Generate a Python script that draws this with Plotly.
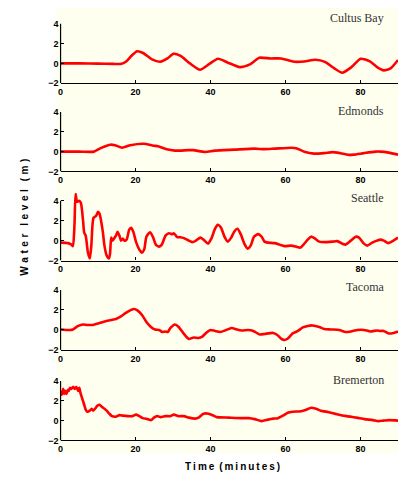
import plotly.graph_objects as go

stations = ["Cultus Bay", "Edmonds", "Seattle", "Tacoma", "Bremerton"]

cultus_t = [0, 5, 10, 14, 16, 17.5, 19, 20.4, 22, 24.4, 26.6, 28.5, 30.1, 32, 34.5, 37.2, 39.5, 42, 44.5, 47.8, 50.5, 53, 56, 58.8, 62.3, 65, 68, 70.5, 73, 75.1, 77.5, 80, 82.5, 84.5, 86.2, 88, 90]
cultus_y = [0, 0, -0.02, -0.05, -0.05, 0.2, 0.8, 1.22, 1.05, 0.4, 0.17, 0.5, 0.97, 0.75, 0.0, -0.63, -0.1, 0.47, 0.1, -0.37, -0.1, 0.57, 0.5, 0.5, 0.17, 0.2, 0.37, 0.15, -0.5, -0.93, -0.4, 0.47, 0.2, -0.4, -0.7, -0.5, 0.35]

edmonds_t = [0, 5, 8.9, 10.7, 13.3, 14.5, 16.4, 18.6, 22.2, 24.8, 26, 28.3, 30.5, 34, 35.4, 38.5, 41.1, 46.4, 51.7, 54.4, 57, 61.5, 62.8, 65, 67.6, 70.3, 72.5, 73.8, 76.9, 78.2, 80.9, 84, 85.3, 87.5, 90]
edmonds_y = [0, 0, 0, 0.35, 0.7, 0.65, 0.4, 0.65, 0.8, 0.6, 0.55, 0.23, 0.1, 0.15, 0.15, -0.03, 0.1, 0.2, 0.3, 0.25, 0.3, 0.4, 0.35, 0.0, -0.2, -0.15, -0.05, -0.1, -0.33, -0.3, -0.15, 0.0, 0.0, -0.1, -0.3]

seattle_t = [0, 2, 2.9, 3.3, 3.7, 4.0, 4.4, 4.9, 5.4, 6.0, 6.3, 6.7, 7.3, 7.8, 8.2, 8.5, 8.8, 9.5, 10.0, 10.4, 10.8, 11.3, 11.7, 12.3, 12.9, 13.2, 13.5, 13.9, 14.4, 14.8, 15.2, 15.7, 16.1, 16.6, 17.0, 17.6, 18.3, 18.8, 19.4, 20.1, 21.0, 21.7, 22.3, 22.9, 23.9, 24.7, 25.4, 26.3, 27.0, 28.0, 28.9, 29.8, 30.2, 31.1, 32.0, 32.9, 34.2, 35.1, 35.9, 37.3, 38.1, 39.3, 40.2, 41.2, 41.9, 42.8, 43.7, 44.6, 45.5, 46.3, 47.2, 48.1, 49.0, 49.9, 50.7, 51.6, 52.7, 53.6, 54.4, 55.3, 57.1, 58.4, 59.7, 61.5, 62.8, 63.9, 65.0, 65.9, 66.8, 67.7, 69.0, 70.7, 72.5, 73.8, 75.1, 76.0, 77.4, 78.7, 79.6, 80.9, 81.8, 83.1, 84.4, 85.3, 86.2, 87.4, 88.3, 90]
seattle_y = [-0.2, -0.25, -0.4, -0.55, 1.5, 4.7, 3.9, 4.0, 3.8, 2.0, 0.8, 0.5, -1.2, -1.8, -0.5, 1.5, 2.3, 2.5, 2.9, 2.7, 2.0, 0.8, -0.5, -1.5, -1.8, -1.3, 0.3, 0.0, 0.3, 0.5, 0.9, 0.5, 0.0, 0.2, 0.0, 0.1, 1.1, 1.3, 0.9, -0.1, -0.9, -1.2, -0.9, 0.4, 0.85, 0.3, -0.4, -0.6, -0.4, 0.5, 0.75, 0.65, 0.75, 0.35, 0.35, 0.25, 0.0, -0.15, -0.05, 0.3, 0.1, -0.3, 0.2, 1.2, 1.6, 1.3, 0.4, -0.1, 0.3, 0.9, 1.2, 0.6, -0.3, -0.8, -0.5, 0.4, 0.65, 0.4, -0.1, -0.2, -0.25, -0.4, -0.55, -0.5, -0.6, -0.7, -0.3, 0.1, 0.4, 0.25, -0.1, -0.15, -0.1, -0.05, -0.3, -0.4, 0.0, 0.4, 0.3, -0.3, -0.5, -0.2, 0.0, 0.1, 0.0, -0.25, -0.1, 0.3]

tacoma_t = [0, 2.5, 3.3, 4.7, 6.0, 7.1, 8.6, 10.4, 12.2, 13.5, 14.8, 16.1, 17.4, 18.8, 19.6, 20.5, 21.9, 22.9, 24.1, 25.2, 26.3, 27.1, 28.0, 28.6, 29.3, 30.5, 31.5, 32.9, 34.2, 35.5, 36.8, 37.7, 38.8, 39.9, 41.2, 42.6, 43.9, 45.6, 47.0, 48.3, 50.0, 51.4, 53.1, 54.4, 56.7, 57.8, 58.9, 59.7, 60.6, 61.9, 63.3, 64.6, 65.9, 67.2, 69.0, 70.3, 72.0, 74.3, 76.0, 77.4, 79.2, 80.9, 82.6, 84.4, 85.3, 86.2, 87.5, 88.8, 90]
tacoma_y = [0.05, 0.0, 0.05, 0.4, 0.55, 0.5, 0.5, 0.7, 0.9, 1.0, 1.1, 1.35, 1.7, 2.0, 2.1, 1.95, 1.4, 0.8, 0.3, 0.05, 0.0, -0.2, -0.15, -0.2, 0.2, 0.55, 0.3, -0.4, -0.9, -0.75, -0.8, -0.7, -0.3, 0.0, -0.1, -0.2, -0.05, 0.2, 0.05, -0.05, 0.0, -0.1, -0.45, -0.4, -0.3, -0.5, -0.9, -1.0, -0.85, -0.35, -0.1, 0.25, 0.4, 0.45, 0.3, 0.1, 0.05, 0.0, -0.2, -0.15, 0.0, 0.0, -0.15, -0.05, -0.1, -0.1, -0.35, -0.3, -0.15]

bremerton_t = [0, 0.3, 0.5, 0.7, 0.95, 1.2, 1.6, 1.9, 2.2, 2.5, 2.9, 3.3, 3.8, 4.2, 4.7, 5.0, 5.3, 5.8, 6.3, 6.7, 7.1, 7.8, 8.3, 8.7, 9.4, 9.8, 10.4, 11.0, 11.7, 12.3, 13.0, 13.7, 14.8, 15.7, 16.6, 17.9, 19.2, 20.1, 21.0, 21.9, 23.2, 24.2, 24.9, 25.8, 26.7, 28.0, 29.3, 30.2, 31.5, 32.9, 34.2, 35.9, 36.8, 38.1, 39.5, 40.8, 41.7, 44.8, 48.3, 50.1, 51.8, 53.6, 55.3, 56.7, 58.0, 59.3, 60.6, 61.9, 64.1, 65.5, 66.8, 68.1, 69.4, 71.5, 73.7, 76.3, 78.9, 81.1, 83.3, 84.7, 86.1, 87.8, 90]
bremerton_y = [3.0, 2.6, 2.9, 3.2, 2.7, 3.0, 2.7, 3.1, 3.0, 3.3, 3.2, 3.4, 3.2, 3.4, 3.0, 3.3, 2.8, 2.2, 1.6, 1.1, 0.9, 1.0, 1.2, 1.0, 1.3, 1.5, 1.6, 1.4, 1.2, 1.0, 0.7, 0.45, 0.4, 0.55, 0.5, 0.45, 0.45, 0.6, 0.45, 0.25, 0.15, 0.05, 0.3, 0.45, 0.35, 0.45, 0.45, 0.6, 0.45, 0.45, 0.3, 0.2, 0.3, 0.7, 0.7, 0.5, 0.35, 0.3, 0.25, 0.25, 0.15, -0.05, 0.1, 0.2, 0.25, 0.5, 0.8, 0.9, 0.95, 1.1, 1.3, 1.2, 1.0, 0.85, 0.65, 0.45, 0.3, 0.15, 0.05, -0.05, 0.0, 0.05, 0.0]

series_t = [cultus_t, edmonds_t, seattle_t, tacoma_t, bremerton_t]
series_y = [cultus_y, edmonds_y, seattle_y, tacoma_y, bremerton_y]

x_ticks = [0, 20, 40, 60, 80]
y_ticks = [-2, 0, 2, 4]

y_title = "Water level (m)"
x_title = "Time (minutes)"


def spaced(s, gap, wordgap):
    words = s.split(" ")
    return wordgap.join(gap.join(list(w)) for w in words)


H = 479.0
W = 405.0
# panel plot-area pixel extents (top of y=4, bottom of y=-2)
panel_px = [(19, 80), (109.3, 170), (200, 261), (291, 352.3), (384, 444.7)]
label_px = [13.7, 108.5, 197, 288.5, 382.5]

fig = go.Figure()
tick_font = dict(family="Liberation Sans", size=9, color="black", weight="bold")

shapes = [dict(type="rect", xref="paper", yref="paper", x0=54 / W, x1=398 / W,
               y0=1 - 458 / H, y1=1 - 3 / H, fillcolor="#FFFFF0", line=dict(width=0),
               layer="below")]
annotations = []
x0d, x1d = 58 / W, 398 / W
for i in range(5):
    n = i + 1
    top_px, bot_px = panel_px[i]
    ymax = 4.8 if i == 2 else 4.0
    ppu = (bot_px - top_px) / 6.0
    top_px_eff = top_px - (ymax - 4.0) * ppu
    dom = [1 - bot_px / H, 1 - top_px_eff / H]
    xa = "xaxis" if n == 1 else f"xaxis{n}"
    ya = "yaxis" if n == 1 else f"yaxis{n}"
    xr = "x" if n == 1 else f"x{n}"
    yr = "y" if n == 1 else f"y{n}"
    fig.add_trace(go.Scatter(x=series_t[i], y=series_y[i], mode="lines",
                             line=dict(color="#FF0000", width=2.6, shape="spline", smoothing=0.6),
                             xaxis=xr, yaxis=yr, showlegend=False, hoverinfo="skip"))
    fig.update_layout(**{
        xa: dict(domain=[x0d, x1d], anchor=yr, range=[0, 90], tickvals=x_ticks,
                 showline=True, linecolor="black", linewidth=1.2, ticks="inside",
                 ticklen=3, tickcolor="black", showgrid=False, zeroline=False,
                 tickfont=tick_font, ticklabelstandoff=0),
        ya: dict(domain=dom, anchor=xr, range=[-2, ymax], tickvals=y_ticks,
                 showline=False, ticks="inside", ticklen=3, tickcolor="black",
                 showgrid=False, zeroline=False, tickfont=tick_font, ticklabelstandoff=1),
    })
    shapes.append(dict(type="line", xref=f"{xr} domain", yref=yr, x0=0, x1=0, y0=-2, y1=4,
                       line=dict(color="black", width=1.2)))
    annotations.append(dict(text=stations[i], xref="paper", yref="paper", x=386 / W,
                            y=1 - label_px[i] / H, xanchor="right", yanchor="middle",
                            showarrow=False,
                            font=dict(family="Liberation Serif", size=12, color="#333333")))

annotations.append(dict(text=spaced(y_title, " \u200a", "\u00a0\u2002"), xref="paper", yref="paper",
                        x=22 / W, y=1 - 216.5 / H, textangle=-90, showarrow=False,
                        xanchor="center", yanchor="middle",
                        font=dict(family="Liberation Sans", size=10, color="black", weight="bold")))
annotations.append(dict(text=spaced(x_title, "\u2009", " \u2009"), xref="paper", yref="paper",
                        x=231 / W, y=1 - 471 / H, showarrow=False,
                        xanchor="center", yanchor="middle",
                        font=dict(family="Liberation Sans", size=10, color="black", weight="bold")))

fig.update_layout(width=405, height=479, margin=dict(l=0, r=0, t=0, b=0),
                  paper_bgcolor="white", plot_bgcolor="rgba(0,0,0,0)",
                  shapes=shapes, annotations=annotations)

fig.write_html("out.html", config={"displayModeBar": False},
               post_script="document.body.style.margin='0';document.body.style.overflow='hidden';")
